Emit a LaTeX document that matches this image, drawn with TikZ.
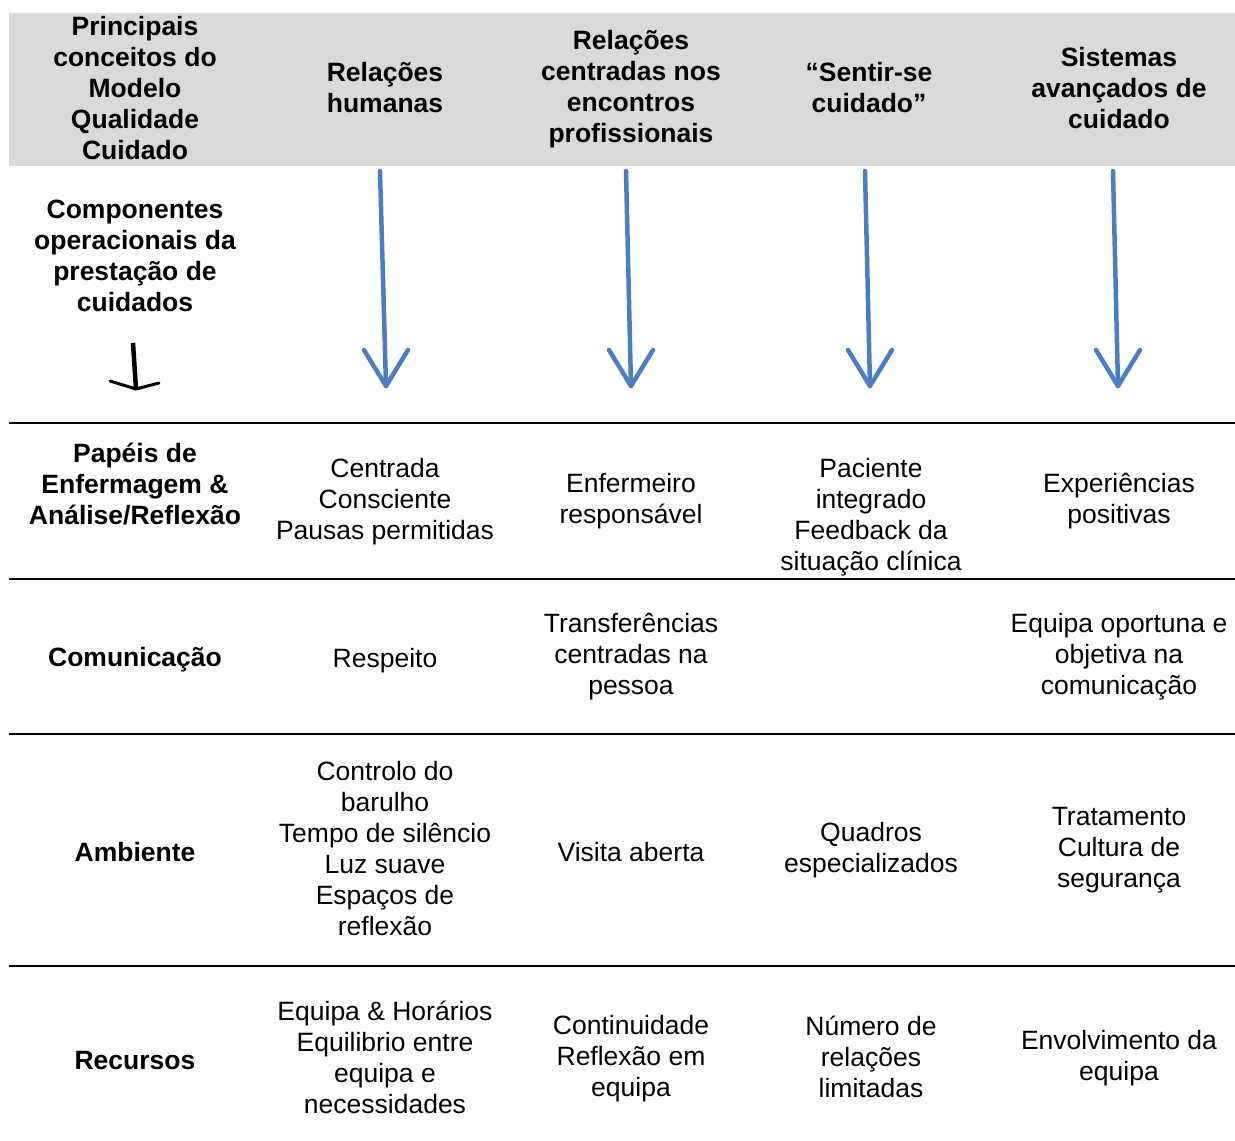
\documentclass[tikz,border=0pt]{standalone}
\usepackage{fontspec}
\setmainfont{Liberation Sans}
\usetikzlibrary{calc}
\newcommand{\LS}{\rule[-4pt]{0pt}{31pt}}
\begin{document}
\begin{tikzpicture}[x=1pt,y=-1pt,
  cell/.style={align=center,inner sep=0pt,font=\fontsize{26.5}{31}\selectfont,
    execute at begin node=\LS, execute at end node=\LS},
  hcell/.style={cell,font=\fontsize{26.5}{31}\selectfont\bfseries},
  rule/.style={line width=2pt,black},
  bluearrow/.style={line width=4.5pt,draw={rgb,255:red,74;green,126;blue,193},line cap=round,line join=round},
  blackarrow/.style={line width=3pt,black,line cap=round,line join=round}]
\useasboundingbox (0,0) rectangle (1235,1141);
\fill[fill={rgb,255:red,217;green,217;blue,217}] (9,13) rectangle (1235,166);

% header
\node[hcell] (h0) at (135,89.5) {Principais\\conceitos do\\Modelo\\Qualidade\\Cuidado};
\node[hcell] (h1) at (385,89.5) {Relações\\humanas};
\node[hcell] (h2) at (631,89.5) {Relações\\centradas nos\\encontros\\profissionais};
\node[hcell] (h3) at (869,89.5) {“Sentir-se\\cuidado”};
\node[hcell] (h4) at (1119,89.5) {Sistemas\\avançados de\\cuidado};

\node[hcell] (comp) at (135,258) {Componentes\\operacionais da\\prestação de\\cuidados};

% arrows
\coordinate (t1) at (380,171); \coordinate (b1) at (386,386);
\coordinate (t2) at (626,171); \coordinate (b2) at (631,386);
\coordinate (t3) at (865,171); \coordinate (b3) at (870,386);
\coordinate (t4) at (1113,171); \coordinate (b4) at (1118,386);
\foreach \i in {1,2,3,4}{
  \draw[bluearrow] (t\i) -- (b\i);
  \draw[bluearrow] ($(b\i)+(-22,-36)$) -- (b\i) -- ($(b\i)+(22,-36)$);
}
\coordinate (kt) at (133,343); \coordinate (kb) at (136,389);
\draw[line width=4.5pt,black] (kt) -- (kb);
\draw[blackarrow] (110,381) -- (kb) -- (159,383);

% rules
\coordinate (r1l) at (9,423); \coordinate (r1r) at (1235,423);
\coordinate (r2l) at (9,579); \coordinate (r2r) at (1235,579);
\coordinate (r3l) at (9,734); \coordinate (r3r) at (1235,734);
\coordinate (r4l) at (9,966); \coordinate (r4r) at (1235,966);
\draw[rule] (r1l) -- (r1r);
\draw[rule] (r2l) -- (r2r);
\draw[rule] (r3l) -- (r3r);
\draw[rule] (r4l) -- (r4r);

% row 1
\node[hcell] (a0) at (135,486) {Papéis de\\Enfermagem \&\\Análise/Reflexão};
\node[cell] (a1) at (385,501.5) {Centrada\\Consciente\\Pausas permitidas};
\node[cell] (a2) at (631,501.5) {Enfermeiro\\responsável};
\node[cell] (a3) at (871,517) {Paciente\\integrado\\Feedback da\\situação clínica};
\node[cell] (a4) at (1119,501.5) {Experiências\\positivas};

% row 2
\node[hcell] (c0) at (135,656) {Comunicação};
\node[cell] (c1) at (385,657) {Respeito};
\node[cell] (c2) at (631,657) {Transferências\\centradas na\\pessoa};
\node[cell] (c4) at (1119,657) {Equipa oportuna e\\objetiva na\\comunicação};

% row 3
\node[hcell] (e0) at (135,850) {Ambiente};
\node[cell] (e1) at (385,850) {Controlo do\\barulho\\Tempo de silêncio\\Luz suave\\Espaços de\\reflexão};
\node[cell] (e2) at (631,850) {Visita aberta};
\node[cell] (e3) at (871,850.5) {Quadros\\especializados};
\node[cell] (e4) at (1119,850.5) {Tratamento\\Cultura de\\segurança};

% row 4
\node[hcell] (g0) at (135,1058) {Recursos};
\node[cell] (g1) at (385,1059) {Equipa \& Horários\\Equilibrio entre\\equipa e\\necessidades};
\node[cell] (g2) at (631,1058.5) {Continuidade\\Reflexão em\\equipa};
\node[cell] (g3) at (871,1058.5) {Número de\\relações\\limitadas};
\node[cell] (g4) at (1119,1058.5) {Envolvimento da\\equipa};
\end{tikzpicture}
\end{document}
